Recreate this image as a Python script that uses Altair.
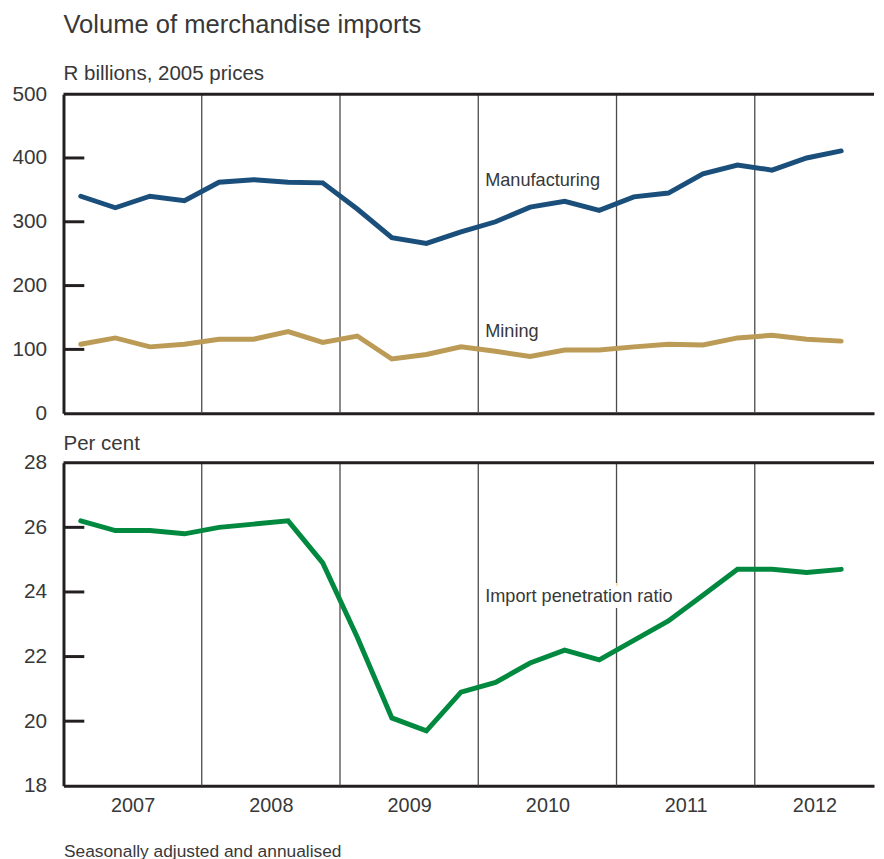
import altair as alt
import pandas as pd

quarters = ["2007Q1", "2007Q2", "2007Q3", "2007Q4",
            "2008Q1", "2008Q2", "2008Q3", "2008Q4",
            "2009Q1", "2009Q2", "2009Q3", "2009Q4",
            "2010Q1", "2010Q2", "2010Q3", "2010Q4",
            "2011Q1", "2011Q2", "2011Q3", "2011Q4",
            "2012Q1", "2012Q2", "2012Q3"]
manufacturing = [340, 322, 340, 333, 362, 366, 362, 361, 320, 275, 266, 284,
                 300, 323, 332, 318, 339, 345, 375, 389, 381, 400, 411]
mining = [108, 118, 104, 108, 116, 116, 128, 111, 121, 85, 92, 104,
          97, 89, 99, 99, 104, 108, 107, 118, 122, 116, 113]
penetration = [26.2, 25.9, 25.9, 25.8, 26.0, 26.1, 26.2, 24.9, 22.6, 20.1, 19.7, 20.9,
               21.2, 21.8, 22.2, 21.9, 22.5, 23.1, 23.9, 24.7, 24.7, 24.6, 24.7]
years = [2007, 2008, 2009, 2010, 2011, 2012]
top_ticks = [0, 100, 200, 300, 400, 500]
top_inner_ticks = [100, 200, 300, 400]
bottom_ticks = [18, 20, 22, 24, 26, 28]
bottom_inner_ticks = [20, 22, 24, 26]

FONT = "Liberation Sans"
TXT = "#383838"
FRAME = "#231f20"
SEP = "#4a4a4a"
C_MAN = "#1b4f7b"
C_MIN = "#bb9b55"
C_PEN = "#00893f"
W = 818
XDOM = [0, 23.45]

pos = [k + 0.5 for k in range(len(quarters))]
year_breaks = [4 * (k + 1) for k in range(len(years) - 1)]
# year labels centred in each visible year span
year_centers = [4 * k + 2 for k in range(len(years) - 1)] + [(year_breaks[-1] + XDOM[1]) / 2]

top_long = pd.DataFrame({
    "i": pos * 2,
    "v": manufacturing + mining,
    "series": ["Manufacturing"] * len(pos) + ["Mining"] * len(pos),
})
bot_df = pd.DataFrame({"i": pos, "v": penetration, "q": quarters})

x_scale = alt.Scale(domain=XDOM, nice=False, zero=False)

x_top = alt.X("i:Q", scale=x_scale,
              axis=alt.Axis(labels=False, ticks=False, tickSize=0, grid=False,
                            domainWidth=3, domainColor=FRAME, title=None, values=year_centers))
x_bot = alt.X("i:Q", scale=x_scale,
              axis=alt.Axis(values=year_centers, ticks=False, tickSize=0, grid=False,
                            labelExpr="'' + (2007 + floor(datum.value / 4))",
                            labelPadding=10, labelFontSize=20, labelColor=TXT, labelFont=FONT,
                            labelBaseline="top",
                            domainWidth=3, domainColor=FRAME,
                            title="Seasonally adjusted and annualised",
                            titleX=0, titleY=71, titleAlign="left", titleAnchor="start",
                            titleBaseline="alphabetic", titleFont=FONT, titleFontSize=17.5,
                            titleFontWeight="normal", titleColor=TXT))

y_top = alt.Y("v:Q", scale=alt.Scale(domain=[0, 500], nice=False),
              axis=alt.Axis(values=top_ticks, ticks=False, tickSize=0, labelPadding=17,
                            labelFontSize=21, labelColor=TXT, labelFont=FONT,
                            domainWidth=3, domainColor=FRAME, grid=False, title=None))
y_bot = alt.Y("v:Q", scale=alt.Scale(domain=[18, 28], nice=False, zero=False),
              axis=alt.Axis(values=bottom_ticks, ticks=False, tickSize=0, labelPadding=17,
                            labelFontSize=21, labelColor=TXT, labelFont=FONT,
                            domainWidth=3, domainColor=FRAME, grid=False, title=None))

# ---------- top panel ----------
t_sep = alt.Chart(pd.DataFrame({"i": year_breaks})).mark_rule(
    color=SEP, strokeWidth=1.3).encode(x=x_top)
t_border = alt.Chart(pd.DataFrame({"v": [500]})).mark_rule(
    color=FRAME, strokeWidth=3).encode(y=y_top)
t_ticks = alt.Chart(pd.DataFrame({"v": top_inner_ticks})).mark_rule(
    color=FRAME, strokeWidth=3).encode(y=y_top, x=alt.value(0), x2=alt.value(21))
t_lines = alt.Chart(top_long).mark_line(strokeWidth=5, strokeCap="round").encode(
    x=x_top, y=y_top,
    color=alt.Color("series:N", scale=alt.Scale(domain=["Manufacturing", "Mining"],
                                                range=[C_MAN, C_MIN]), legend=None),
    detail="series:N")
t_labels = alt.Chart(pd.DataFrame({
    "i": [12.2, 12.2], "v": [364, 127], "t": ["Manufacturing", "Mining"]})).mark_text(
    align="left", baseline="middle", font=FONT, fontSize=18.3, color=TXT).encode(
    x=x_top, y=y_top, text="t:N")

top = alt.layer(t_sep, t_border, t_ticks, t_lines, t_labels).properties(
    width=W, height=322,
    title=alt.TitleParams(text="Volume of merchandise imports",
                          subtitle="R billions, 2005 prices",
                          anchor="start", frame="group", font=FONT, fontSize=25.8,
                          fontWeight="normal", color=TXT, baseline="alphabetic",
                          subtitleFont=FONT, subtitleFontSize=20.7, subtitleColor=TXT,
                          subtitlePadding=21, offset=-21))

# ---------- bottom panel ----------
b_sep = alt.Chart(pd.DataFrame({"i": year_breaks})).mark_rule(
    color=SEP, strokeWidth=1.3).encode(x=x_bot)
b_border = alt.Chart(pd.DataFrame({"v": [28]})).mark_rule(
    color=FRAME, strokeWidth=3).encode(y=y_bot)
b_ticks = alt.Chart(pd.DataFrame({"v": bottom_inner_ticks})).mark_rule(
    color=FRAME, strokeWidth=3).encode(y=y_bot, x=alt.value(0), x2=alt.value(21))
lab_df = pd.DataFrame({"i": [12.2], "v": [23.85], "t": ["Import penetration ratio"]})
b_halo = alt.Chart(lab_df).mark_text(
    align="left", baseline="middle", font=FONT, fontSize=18.3, color="white",
    stroke="white", strokeWidth=12).encode(x=x_bot, y=y_bot, text="t:N")
b_line = alt.Chart(bot_df).mark_line(strokeWidth=5, strokeCap="round", color=C_PEN).encode(
    x=x_bot, y=y_bot)
b_label = alt.Chart(lab_df).mark_text(
    align="left", baseline="middle", font=FONT, fontSize=18.3, color=TXT).encode(
    x=x_bot, y=y_bot, text="t:N")

bottom = alt.layer(b_sep, b_border, b_ticks, b_halo, b_line, b_label).properties(
    width=W, height=326,
    title=alt.TitleParams(text="Per cent", anchor="start", frame="group", font=FONT,
                          fontSize=20.7, fontWeight="normal", color=TXT,
                          baseline="alphabetic", offset=-19))

chart = alt.vconcat(top, bottom, spacing=10).properties(
    padding={"left": 3, "top": 0, "right": 0, "bottom": 0},
    background="white",
).configure_view(stroke=None).configure_concat(spacing=10)

chart.save("out.html", embed_options={"renderer": "svg", "actions": False})
